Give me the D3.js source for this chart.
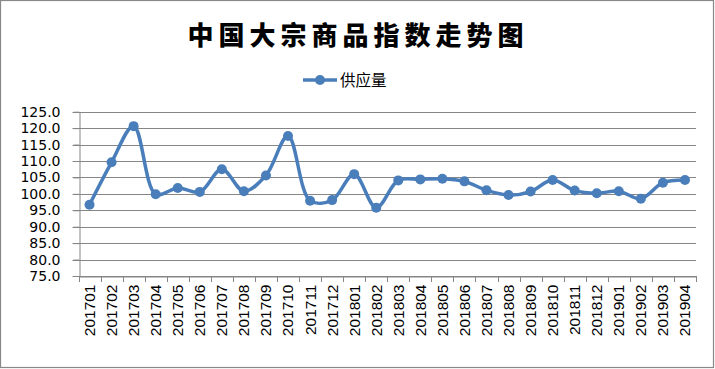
<!DOCTYPE html>
<html><head><meta charset="utf-8">
<script src="https://cdn.jsdelivr.net/npm/d3@7"></script>
<style>body{margin:0;background:#fff}svg{display:block}</style>
</head><body><svg id="c" width="715" height="369"></svg>
<script>
const title = "中国大宗商品指数走势图";
const seriesName = "供应量";
const categories = ["201701","201702","201703","201704","201705","201706","201707","201708","201709","201710","201711","201712","201801","201802","201803","201804","201805","201806","201807","201808","201809","201810","201811","201812","201901","201902","201903","201904"];
const values = [96.7,109.6,120.6,99.9,101.8,100.6,107.5,100.8,105.6,117.6,97.9,98.1,106.0,95.8,104.1,104.4,104.6,103.8,101.1,99.65,100.7,104.2,101.0,100.2,100.8,98.5,103.4,104.2];
const yTicks = [75,80,85,90,95,100,105,110,115,120,125];

(function(){
const svg = d3.select("#c");
const W = 715, H = 369;
const pL = 78.5, pR = 696, pT = 111.7, pB = 276;
const blue = "#4A7EBB", grid = "#868686";

svg.append("rect").attr("x",0.5).attr("y",0.5).attr("width",W-2).attr("height",H-2)
  .attr("fill","#fff").attr("stroke","#888").attr("stroke-width",1.2);

const x = d3.scaleBand().domain(categories).range([pL, pR]);
const y = d3.scaleLinear().domain([75,125]).range([pB, pT]);

svg.append("g").selectAll("line").data(yTicks).join("line")
  .attr("x1", pL-6).attr("x2", pR)
  .attr("y1", d=>Math.round(y(d))+0.5).attr("y2", d=>Math.round(y(d))+0.5)
  .attr("stroke", grid).attr("stroke-width",1);

const ya = svg.append("g").attr("transform",`translate(${Math.round(pL)+0.5},0)`)
  .call(d3.axisLeft(y).tickValues(yTicks).tickFormat(d3.format(".1f")).tickSize(6).tickSizeOuter(0));
ya.select(".domain").attr("stroke",grid);
ya.selectAll(".tick line").attr("stroke",grid);
ya.selectAll(".tick text").attr("font-family","DejaVu Sans").attr("font-size",14).attr("fill","#000").attr("x",-19);

const xa = svg.append("g").attr("transform",`translate(0,${Math.round(pB)+0.5})`)
  .call(d3.axisBottom(x).tickSize(0).tickSizeOuter(0));
xa.select(".domain").attr("stroke",grid);
xa.selectAll(".tick text").attr("font-family","Liberation Sans, Arial").attr("font-size",15.5).attr("fill","#000")
  .attr("transform","rotate(-90)").attr("text-anchor","end").attr("x",-8).attr("y",0).attr("dy","0.35em");
svg.append("g").selectAll("line").data(d3.range(categories.length+1)).join("line")
  .attr("x1", i=>Math.round(pL + i*x.step())+0.5).attr("x2", i=>Math.round(pL + i*x.step())+0.5)
  .attr("y1", pB).attr("y2", pB+6).attr("stroke",grid);

const line = d3.line().x((d,i)=>x(categories[i])+x.bandwidth()/2).y(d=>y(d)).curve(d3.curveCatmullRom.alpha(0.5));
svg.append("path").datum(values).attr("d",line).attr("fill","none").attr("stroke",blue).attr("stroke-width",3.5).attr("stroke-linejoin","round");
svg.append("g").selectAll("circle").data(values).join("circle")
  .attr("cx",(d,i)=>x(categories[i])+x.bandwidth()/2).attr("cy",d=>y(d)).attr("r",5).attr("fill",blue);

svg.append("text").attr("x",358).attr("y",45).attr("text-anchor","middle")
  .attr("font-family","Noto Sans CJK SC").attr("font-weight",900).attr("font-size",26)
  .attr("letter-spacing",5).attr("fill","#000").text(title);

svg.append("line").attr("x1",303).attr("x2",337).attr("y1",80).attr("y2",80).attr("stroke",blue).attr("stroke-width",3.5);
svg.append("circle").attr("cx",320).attr("cy",80).attr("r",5).attr("fill",blue);
svg.append("text").attr("x",340).attr("y",86).attr("font-family","Noto Sans CJK SC").attr("font-size",15.5).attr("fill","#000").text(seriesName);
})();
</script></body></html>
